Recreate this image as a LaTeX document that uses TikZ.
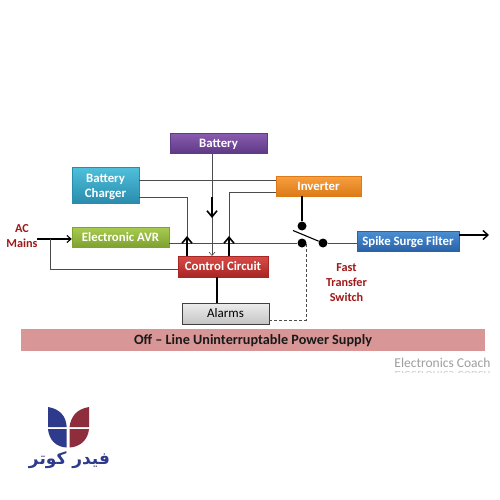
\documentclass[tikz,border=0pt]{standalone}
\usepackage{fontspec}
\setmainfont{Carlito}
\newfontfamily\arabicfont[Script=Arabic]{DejaVu Sans}
\TeXXeTstate=1
\usetikzlibrary{arrows.meta,shadows}
\definecolor{dkred}{HTML}{A01818}
\definecolor{logoblue}{HTML}{2E3A8C}
\definecolor{logored}{HTML}{8E2E3C}
\definecolor{bannerc}{HTML}{D89696}
\definecolor{batT}{HTML}{8A5CB0}\definecolor{batB}{HTML}{5F3A86}
\definecolor{chgT}{HTML}{4FC0DC}\definecolor{chgB}{HTML}{2A8CAC}
\definecolor{avrT}{HTML}{A8CC50}\definecolor{avrB}{HTML}{7FA230}
\definecolor{ctlT}{HTML}{D84C48}\definecolor{ctlB}{HTML}{A82624}
\definecolor{invT}{HTML}{F8A040}\definecolor{invB}{HTML}{DC7A18}
\definecolor{spkT}{HTML}{4C90D4}\definecolor{spkB}{HTML}{2A62A8}
\definecolor{almT}{HTML}{EDEDED}\definecolor{almB}{HTML}{C4C4C4}
\tikzset{
 base/.style={rectangle,inner sep=0pt,align=center,font=\bfseries\fontsize{12.8}{15.7}\selectfont,text=white,
   drop shadow={shadow xshift=0.6pt,shadow yshift=-1pt,opacity=.35}},
 oneline/.style={text height=10pt,text depth=1.5pt},
 wire/.style={draw=black!70,line width=.8pt},
 heavywire/.style={draw=black,line width=1.5pt},
 bigtip/.style={-{Straight Barb[length=6pt,width=10pt,line width=1.6pt]}},
 lab/.style={font=\bfseries\fontsize{12.2}{15}\selectfont,text=dkred,align=center},
 dot/.style={circle,fill=black,minimum size=9pt,inner sep=0pt}
}
\begin{document}
\begin{tikzpicture}[x=1pt,y=-1pt]
\useasboundingbox (0,0) rectangle (500,500);
\fill[white] (0,0) rectangle (500,500);
% boxes
\node[base,oneline,draw=batB,top color=batT,bottom color=batB,minimum width=97pt,minimum height=20pt] (bat) at (218.5,143) {Battery};
\node[base,draw=chgB,top color=chgT,bottom color=chgB,minimum width=67pt,minimum height=36pt] (chg) at (105.5,185) {\rule{0pt}{12pt}Battery\\Charger};
\node[base,oneline,draw=avrB,top color=avrT,bottom color=avrB,minimum width=97pt,minimum height=20pt] (avr) at (120.5,237) {Electronic AVR};
\node[base,oneline,draw=ctlB,top color=ctlT,bottom color=ctlB,minimum width=90pt,minimum height=21pt] (ctl) at (223,266.5) {Control Circuit};
\node[base,oneline,draw=invB,top color=invT,bottom color=invB,minimum width=85pt,minimum height=20pt] (inv) at (318.5,186) {Inverter};
\node[base,oneline,draw=spkB,top color=spkT,bottom color=spkB,minimum width=102pt,minimum height=20pt] (spk) at (408,241) {Spike Surge Filter};
\node[base,oneline,draw=black!75,top color=almT,bottom color=almB,text=black,font=\fontsize{13}{14}\selectfont,minimum width=87pt,minimum height=21pt] (alm) at (225.5,313.5) {Alarms};
\node[rectangle,minimum width=464pt,minimum height=22pt,inner sep=0pt,fill=bannerc,font=\bfseries\fontsize{14.2}{16}\selectfont,text=black!90,text height=10.5pt,text depth=1.5pt] (banner) at (253,340) {Off – Line Uninterruptable Power Supply};
% labels
\node[lab] (ac) at (22,236) {AC\\Mains};
\node[lab] (fts) at (346.5,282.5) {Fast\\Transfer\\Switch};
\node[font=\fontsize{13.5}{15}\selectfont,text=black!38] (ec) at (442.5,362.5) {Electronics Coach};
\begin{scope}
\clip (380,369.5) rectangle (500,372.5);
\node[font=\fontsize{13.5}{15}\selectfont,text=black!18,yscale=-1] (ecr) at (442.5,376) {Electronics Coach};
\end{scope}
% switch points
\node[dot] (s1) at (302,226) {};
\node[dot] (s2) at (302,243) {};
\node[dot] (s3) at (323,243) {};
\coordinate (blade) at (293,230.5);
% wires
\draw[wire] (chg.east |- 0,180) -- (inv.west |- 0,180);
\coordinate (cc) at (187,256);
\draw[wire] (chg.east |- 0,197) -- (187,197) -- (cc);
\coordinate (ci) at (229,256);
\draw[wire] (inv.west |- 0,192) -- (229,192) -- (ci);
\draw[wire] (avr.east |- 0,243) -- (s2);
\draw[wire] (s3) -- (spk.west |- s3);
\coordinate (cb) at (212,256);
\draw[wire,-{Straight Barb[length=3.5pt,width=6pt,line width=.6pt]}] (bat.south -| cb) -- (cb);
\draw[heavywire,bigtip] (212,197) -- (212,218);
\draw[heavywire,bigtip] (187,256) -- (187,236);
\draw[heavywire,bigtip] (229,256) -- (229,236);
\draw[heavywire] (inv.south -| s1) -- (s1);
\draw[heavywire,line width=1.1pt] (blade) -- (s3);
\draw[heavywire,-{Straight Barb[length=5pt,width=9pt,line width=1.4pt]}] (spk.east |- 0,235) -- (489,235);
\coordinate (acs) at (37,239);
\draw[heavywire,line width=1.1pt,-{Straight Barb[length=4pt,width=7pt,line width=1.1pt]}] (acs) -- (avr.west |- acs);
\coordinate (j) at (50,239);
\draw[wire] (j) -- (50,269) -- (ctl.west |- 0,269);
\draw[heavywire,line width=1.1pt] (ctl.south -| 217,0) -- (alm.north -| 217,0);
\draw[draw=black!70,line width=.9pt,densely dashed] (alm.east |- 0,320) -- (306,320) -- (306,243);
% logo
\fill[logoblue] (48,407) .. controls (60,409) and (66,416) .. (66.7,427) -- (48,427) -- cycle;
\fill[logored] (89,407) .. controls (77,409) and (71,416) .. (69.5,427) -- (89,427) -- cycle;
\fill[logoblue] (48,429) -- (66.7,429) -- (66.7,447.5) .. controls (56,447) and (49,440) .. (48,429) -- cycle;
\fill[logored] (89,429) -- (69.5,429) -- (69.5,447.5) .. controls (80,447) and (88,440) .. (89,429) -- cycle;
\node[font=\arabicfont\bfseries\fontsize{17}{18}\selectfont,text=logoblue,inner sep=0pt] (logotxt) at (69.5,460) {\beginR فیدر کوتر\endR};
\end{tikzpicture}
\end{document}
